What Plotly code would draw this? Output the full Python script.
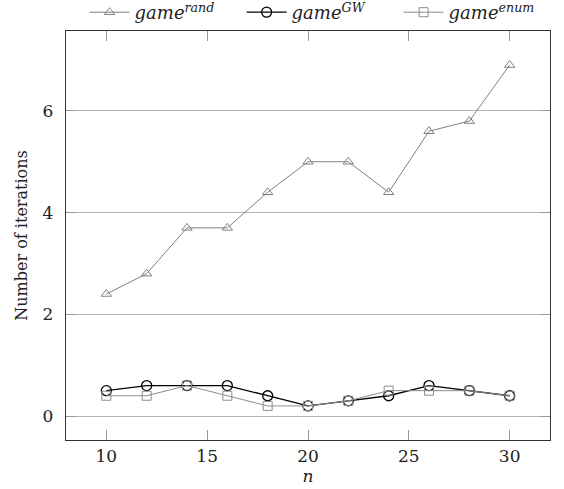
import plotly.graph_objects as go

n = [10, 12, 14, 16, 18, 20, 22, 24, 26, 28, 30]
game_rand = [2.4, 2.8, 3.7, 3.7, 4.4, 5.0, 5.0, 4.4, 5.6, 5.8, 6.9]
game_gw = [0.5, 0.6, 0.6, 0.6, 0.4, 0.2, 0.3, 0.4, 0.6, 0.5, 0.4]
game_enum = [0.4, 0.4, 0.6, 0.4, 0.2, 0.2, 0.3, 0.5, 0.5, 0.5, 0.4]

x_ticks = [10, 15, 20, 25, 30]
y_ticks = [0, 2, 4, 6]

FONT = "'DejaVu Serif', 'Liberation Serif', serif"

fig = go.Figure()
fig.add_trace(go.Scatter(
    x=n, y=game_rand, mode="lines+markers",
    name="<i>game</i><sup><i>rand</i></sup>",
    line=dict(color="#808080", width=1),
    marker=dict(symbol="triangle-up-open", size=9, color="#808080", line=dict(width=1)),
))
fig.add_trace(go.Scatter(
    x=n, y=game_gw, mode="lines+markers",
    name="<i>game</i><sup><i>GW</i></sup>",
    line=dict(color="#000000", width=1.3),
    marker=dict(symbol="circle-open", size=10, color="#000000", line=dict(width=1.3)),
))
fig.add_trace(go.Scatter(
    x=n, y=game_enum, mode="lines+markers",
    name="<i>game</i><sup><i>enum</i></sup>",
    line=dict(color="#8c8c8c", width=1),
    marker=dict(symbol="square-open", size=9, color="#8c8c8c", line=dict(width=1)),
))

fig.update_layout(
    width=564, height=489,
    margin=dict(l=66, r=14, t=31, b=49, autoexpand=False),
    paper_bgcolor="white", plot_bgcolor="white",
    font=dict(family=FONT, size=16, color="#222"),
    showlegend=True,
    legend=dict(orientation="h", x=0.525, xanchor="center", y=1.0, yanchor="bottom",
                font=dict(family=FONT, size=18), itemwidth=40, entrywidth=102,
                bgcolor="rgba(0,0,0,0)", tracegroupgap=0),
    xaxis=dict(
        range=[8, 32], tickvals=x_ticks, ticks="inside", ticklen=10, tickcolor="#999",
        showline=True, linecolor="#333", linewidth=1.3, mirror="allticks",
        showgrid=False, zeroline=False,
        title=dict(text="<i>n</i>", font=dict(family=FONT, size=17), standoff=0),
        tickfont=dict(family=FONT, size=17),
    ),
    yaxis=dict(
        range=[-0.47, 7.57], tickvals=y_ticks, ticks="inside", ticklen=10, tickcolor="#999",
        showline=True, linecolor="#333", linewidth=1.3, mirror="allticks",
        showgrid=True, gridcolor="#b5b5b5", gridwidth=1, zeroline=False,
        ticklabelstandoff=8,
        title=dict(text="Number of iterations", font=dict(family=FONT, size=16), standoff=11),
        tickfont=dict(family=FONT, size=17),
    ),
)

fig.write_html("out.html")
